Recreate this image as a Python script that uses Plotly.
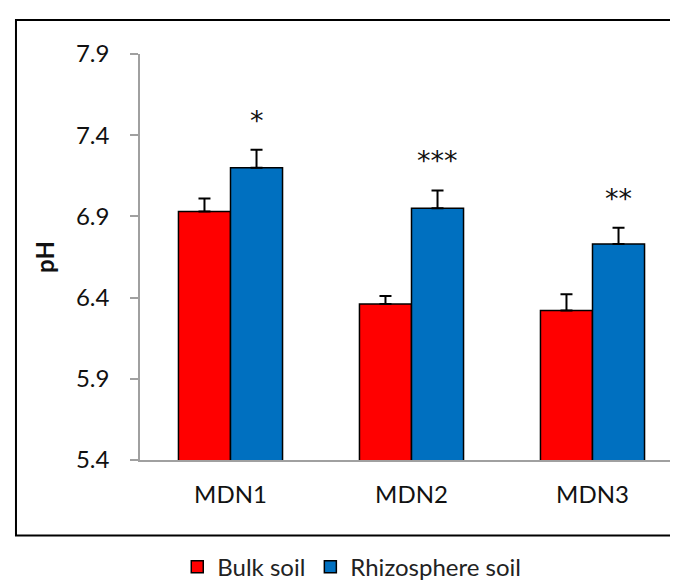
import plotly.graph_objects as go

categories = ["MDN1", "MDN2", "MDN3"]
bulk = [6.93, 6.36, 6.32]
bulk_err = [0.08, 0.05, 0.10]
rhizo = [7.20, 6.95, 6.73]
rhizo_err = [0.11, 0.11, 0.10]
significance = ["*", "***", "**"]
y_ticks = [5.4, 5.9, 6.4, 6.9, 7.4, 7.9]
y_tick_labels = ["5.4", "5.9", "6.4", "6.9", "7.4", "7.9"]

FONT = "Lato"
AXIS_GRAY = "#A0A0A0"
TXT = "#111111"
FS = 24

fig = go.Figure()
fig.add_trace(go.Bar(
    name="Bulk soil", x=categories, y=bulk,
    marker=dict(color="#FF0000", line=dict(color="black", width=1.5)),
    error_y=dict(type="data", symmetric=False, array=bulk_err,
                 arrayminus=[0] * len(bulk_err), color="black",
                 thickness=2, width=6),
))
fig.add_trace(go.Bar(
    name="Rhizosphere soil", x=categories, y=rhizo,
    marker=dict(color="#0070C0", line=dict(color="black", width=1.5)),
    error_y=dict(type="data", symmetric=False, array=rhizo_err,
                 arrayminus=[0] * len(rhizo_err), color="black",
                 thickness=2, width=6),
))

for cat, v, e, s in zip(categories, rhizo, rhizo_err, significance):
    fig.add_annotation(
        x=cat, y=v + e, text=s, showarrow=False,
        xshift=26, yanchor="bottom", yshift=12,
        font=dict(family="DejaVu Sans", size=27, color=TXT),
    )

fig.add_annotation(
    x=-0.177, y=0.5, xref="paper", yref="paper", text="<b>pH</b>",
    textangle=-90, showarrow=False, xanchor="center", yanchor="middle",
    font=dict(family=FONT, size=FS, color=TXT),
)

fig.add_shape(
    type="rect", xref="paper", yref="paper",
    x0=-0.2284, x1=1.02, y0=-0.186, y1=1.084,
    line=dict(color="black", width=2), fillcolor="rgba(0,0,0,0)",
)

fig.update_layout(
    width=678, height=585, autosize=False,
    margin=dict(l=132, r=3, t=46, b=122),
    paper_bgcolor="white", plot_bgcolor="white",
    barmode="group", bargap=0.425, bargroupgap=0,
    font=dict(family=FONT, size=FS, color=TXT),
    showlegend=True,
    legend=dict(
        orientation="h", x=0.39, xanchor="center", y=-0.264, yanchor="middle",
        font=dict(family=FONT, size=FS, color="#222222"),
        bgcolor="rgba(0,0,0,0)",
    ),
    xaxis=dict(
        type="category", showline=True, linecolor=AXIS_GRAY, linewidth=1.5,
        ticks="", showgrid=False, zeroline=False,
        tickfont=dict(family=FONT, size=FS, color=TXT),
        ticklabelstandoff=12,
    ),
    yaxis=dict(
        range=[5.4, 7.9], tickvals=y_ticks, ticktext=y_tick_labels,
        showline=True, linecolor=AXIS_GRAY, linewidth=1.5,
        ticks="outside", ticklen=8, tickcolor=AXIS_GRAY, tickwidth=1.5,
        showgrid=False, zeroline=False,
        tickfont=dict(family=FONT, size=FS, color=TXT),
        ticklabelstandoff=16,
    ),
)

fig.write_html("out.html")
